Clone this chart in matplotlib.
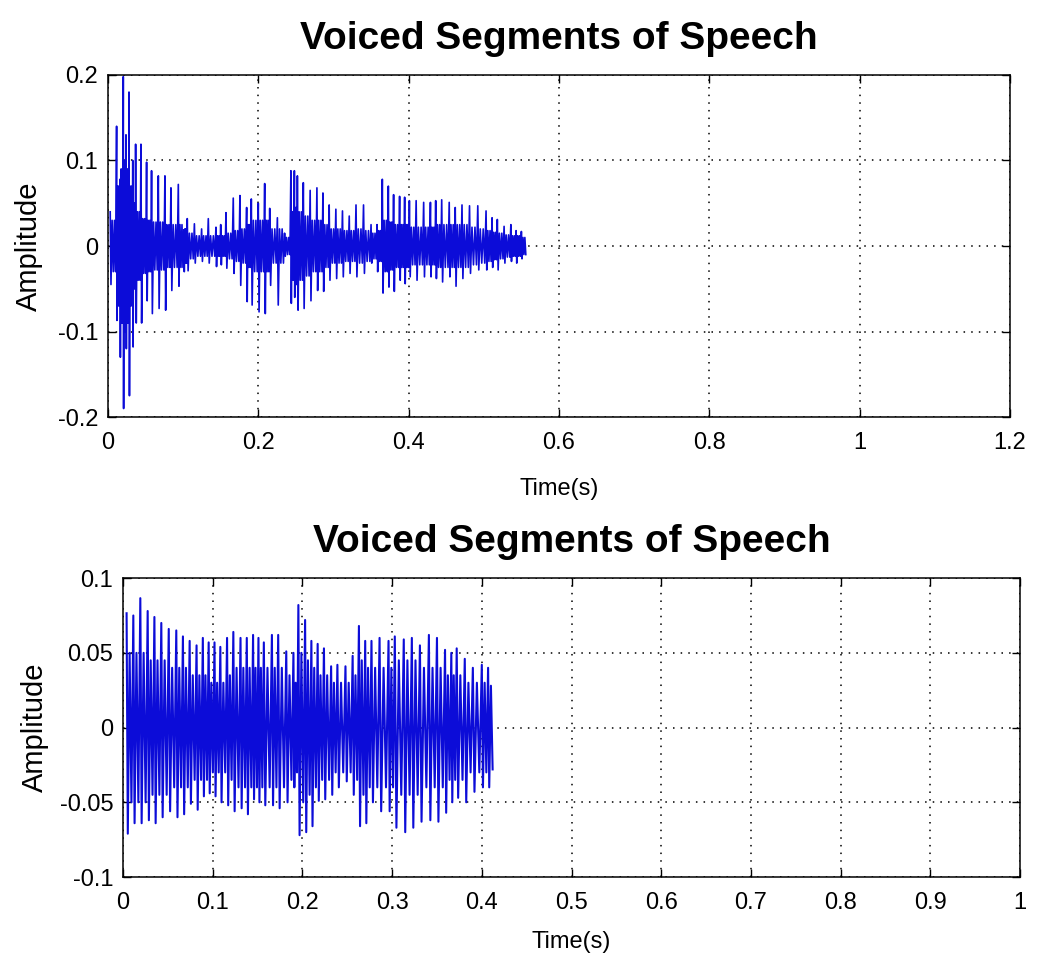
import numpy as np
import matplotlib
matplotlib.use("Agg")
import matplotlib.pyplot as plt

plt.rcParams['font.family'] = ['Liberation Sans', 'DejaVu Sans']

# Upper segment: per pitch period -> time (s), positive peak, negative peak, inner band
top_t = [0.003, 0.0115, 0.016, 0.0204, 0.024, 0.028, 0.033, 0.0368, 0.0439, 0.0514,
         0.058, 0.067, 0.0758, 0.0838, 0.0936, 0.101, 0.1055, 0.115, 0.1246, 0.1335,
         0.1437, 0.150, 0.157, 0.1667, 0.1756, 0.1845, 0.1907, 0.200, 0.2085, 0.2152,
         0.2254, 0.235, 0.2434, 0.248, 0.252, 0.2599, 0.269, 0.278, 0.286, 0.2943,
         0.3032, 0.312, 0.321, 0.330, 0.340, 0.350, 0.358, 0.365, 0.373, 0.380,
         0.388, 0.3947, 0.401, 0.410, 0.420, 0.429, 0.436, 0.444, 0.454, 0.462,
         0.471, 0.481, 0.492, 0.503, 0.511, 0.518, 0.527, 0.536, 0.543, 0.550]
top_pos = [0.040, 0.140, 0.078, 0.198, 0.130, 0.180, 0.100, 0.119, 0.119, 0.098,
           0.088, 0.082, 0.082, 0.068, 0.072, 0.019, 0.032, 0.026, 0.020, 0.032,
           0.022, 0.025, 0.039, 0.056, 0.059, 0.045, 0.055, 0.050, 0.073, 0.044,
           0.033, 0.015, 0.088, 0.088, 0.082, 0.074, 0.065, 0.068, 0.062, 0.048,
           0.043, 0.041, 0.035, 0.048, 0.048, 0.025, 0.025, 0.078, 0.070, 0.060,
           0.058, 0.057, 0.053, 0.053, 0.051, 0.051, 0.053, 0.054, 0.051, 0.045,
           0.048, 0.047, 0.047, 0.041, 0.033, 0.031, 0.023, 0.025, 0.018, 0.017]
top_neg = [-0.045, -0.087, -0.130, -0.190, -0.120, -0.175, -0.118, -0.090, -0.090, -0.064,
           -0.079, -0.073, -0.075, -0.052, -0.047, -0.030, -0.029, -0.020, -0.018, -0.020,
           -0.024, -0.022, -0.026, -0.032, -0.046, -0.065, -0.069, -0.077, -0.079, -0.046,
           -0.069, -0.012, -0.067, -0.060, -0.075, -0.073, -0.064, -0.052, -0.053, -0.040,
           -0.038, -0.036, -0.032, -0.036, -0.032, -0.020, -0.030, -0.055, -0.048, -0.053,
           -0.040, -0.044, -0.036, -0.040, -0.036, -0.036, -0.038, -0.042, -0.036, -0.047,
           -0.038, -0.032, -0.028, -0.028, -0.025, -0.028, -0.020, -0.018, -0.020, -0.015]
top_inner = [0.030, 0.070, 0.090, 0.100, 0.090, 0.070, 0.050, 0.040, 0.032, 0.030,
             0.028, 0.028, 0.025, 0.025, 0.025, 0.020, 0.015, 0.012, 0.012, 0.012,
             0.012, 0.012, 0.015, 0.018, 0.020, 0.025, 0.030, 0.030, 0.030, 0.020,
             0.020, 0.010, 0.040, 0.045, 0.040, 0.035, 0.030, 0.030, 0.025, 0.020,
             0.020, 0.018, 0.018, 0.020, 0.018, 0.015, 0.018, 0.030, 0.028, 0.025,
             0.025, 0.025, 0.022, 0.022, 0.022, 0.022, 0.025, 0.025, 0.025, 0.025,
             0.025, 0.022, 0.020, 0.018, 0.016, 0.015, 0.013, 0.012, 0.012, 0.010]

# Lower segment
bot_t = [0.004, 0.0115, 0.0193, 0.0275, 0.035, 0.0427, 0.051, 0.0594, 0.0668, 0.0743,
         0.082, 0.089, 0.0955, 0.102, 0.1085, 0.116, 0.123, 0.131, 0.138, 0.145,
         0.151, 0.157, 0.166, 0.173, 0.182, 0.190, 0.1955, 0.203, 0.210, 0.217,
         0.224, 0.232, 0.239, 0.248, 0.256, 0.263, 0.270, 0.277, 0.286, 0.296,
         0.303, 0.313, 0.322, 0.331, 0.341, 0.350, 0.359, 0.366, 0.372, 0.381,
         0.390, 0.400, 0.407]
bot_pos = [0.0765, 0.075, 0.0866, 0.078, 0.074, 0.070, 0.066, 0.065, 0.061, 0.058,
           0.055, 0.060, 0.057, 0.057, 0.054, 0.060, 0.064, 0.060, 0.060, 0.062,
           0.060, 0.057, 0.062, 0.062, 0.051, 0.050, 0.082, 0.072, 0.058, 0.056,
           0.053, 0.041, 0.042, 0.041, 0.048, 0.068, 0.058, 0.058, 0.060, 0.058,
           0.061, 0.059, 0.060, 0.055, 0.062, 0.060, 0.052, 0.050, 0.053, 0.046,
           0.040, 0.042, 0.040]
bot_neg = [-0.071, -0.064, -0.064, -0.062, -0.064, -0.060, -0.056, -0.060, -0.058, -0.051,
           -0.055, -0.046, -0.044, -0.046, -0.050, -0.052, -0.056, -0.054, -0.058, -0.048,
           -0.050, -0.052, -0.052, -0.054, -0.050, -0.040, -0.072, -0.070, -0.066, -0.049,
           -0.048, -0.045, -0.040, -0.036, -0.045, -0.066, -0.064, -0.050, -0.056, -0.056,
           -0.067, -0.070, -0.067, -0.063, -0.062, -0.063, -0.057, -0.050, -0.047, -0.050,
           -0.043, -0.040, -0.040]
bot_inner = [0.050, 0.050, 0.050, 0.045, 0.045, 0.045, 0.040, 0.040, 0.040, 0.035,
             0.035, 0.035, 0.030, 0.030, 0.030, 0.035, 0.040, 0.040, 0.040, 0.040,
             0.040, 0.040, 0.040, 0.040, 0.035, 0.030, 0.050, 0.045, 0.040, 0.035,
             0.035, 0.030, 0.030, 0.030, 0.035, 0.045, 0.040, 0.040, 0.040, 0.040,
             0.045, 0.045, 0.045, 0.040, 0.040, 0.040, 0.035, 0.035, 0.035, 0.030,
             0.030, 0.030, 0.028]

top_xticks = [0, 0.2, 0.4, 0.6, 0.8, 1.0, 1.2]
top_xlabels = ['0', '0.2', '0.4', '0.6', '0.8', '1', '1.2']
top_yticks = [-0.2, -0.1, 0, 0.1, 0.2]
top_ylabels = ['-0.2', '-0.1', '0', '0.1', '0.2']
bot_xticks = [0, 0.1, 0.2, 0.3, 0.4, 0.5, 0.6, 0.7, 0.8, 0.9, 1.0]
bot_xlabels = ['0', '0.1', '0.2', '0.3', '0.4', '0.5', '0.6', '0.7', '0.8', '0.9', '1']
bot_yticks = [-0.1, -0.05, 0, 0.05, 0.1]
bot_ylabels = ['-0.1', '-0.05', '0', '0.05', '0.1']


# Turn per-period peaks into a zigzag line: spike up, spike down, then smaller ringing.
def build_wave(t, pos, neg, inner, fracs):
    xs, ys = [], []
    for i in range(len(t)):
        period = t[i + 1] - t[i] if i + 1 < len(t) else t[i] - t[i - 1]
        vals = [pos[i], neg[i]]
        while len(vals) < len(fracs):
            vals += [inner[i], -inner[i]]
        for f, v in zip(fracs, vals):
            xs.append(t[i] + f * period)
            ys.append(v)
    return np.array(xs), np.array(ys)


def style_axes(ax, xticks, xlabels, yticks, ylabels, xlim, ylim, xpad, ypad):
    ax.set_xlim(*xlim)
    ax.set_ylim(*ylim)
    ax.set_xticks(xticks)
    ax.set_xticklabels(xlabels)
    ax.set_yticks(yticks)
    ax.set_yticklabels(ylabels)
    ax.tick_params(direction='in', length=6, width=1, top=True, right=True,
                   labelsize=17)
    ax.tick_params(axis='x', pad=11)
    ax.tick_params(axis='y', pad=7)
    ax.grid(True, linestyle=(0, (1, 4)), color='black', linewidth=1.1)
    for s in ax.spines.values():
        s.set_linewidth(1.1)
    ax.set_title('Voiced Segments of Speech', fontsize=28, fontweight='bold', pad=19)
    ax.set_xlabel('Time(s)', fontsize=17, labelpad=xpad)
    ax.set_ylabel('Amplitude', fontsize=21, labelpad=ypad)


fig = plt.figure(figsize=(10.38, 9.61), dpi=100)
ax1 = fig.add_axes([0.104, 0.566, 0.869, 0.356])
ax2 = fig.add_axes([0.1185, 0.0874, 0.8642, 0.311])

x1, y1 = build_wave(top_t, top_pos, top_neg, top_inner, [0.0, 0.12, 0.3, 0.48, 0.66, 0.84])
ax1.plot(x1, y1, color='#0c0cd8', linewidth=1.2)
style_axes(ax1, top_xticks, top_xlabels, top_yticks, top_ylabels, (0, 1.2), (-0.2, 0.2), 17, 11)

x2, y2 = build_wave(bot_t, bot_pos, bot_neg, bot_inner, [0.0, 0.18, 0.45, 0.72])
ax2.plot(x2, y2, color='#0c0cd8', linewidth=1.5)
style_axes(ax2, bot_xticks, bot_xlabels, bot_yticks, bot_ylabels, (0, 1.0), (-0.1, 0.1), 12, 8)

fig.savefig('out.png', dpi=100)
